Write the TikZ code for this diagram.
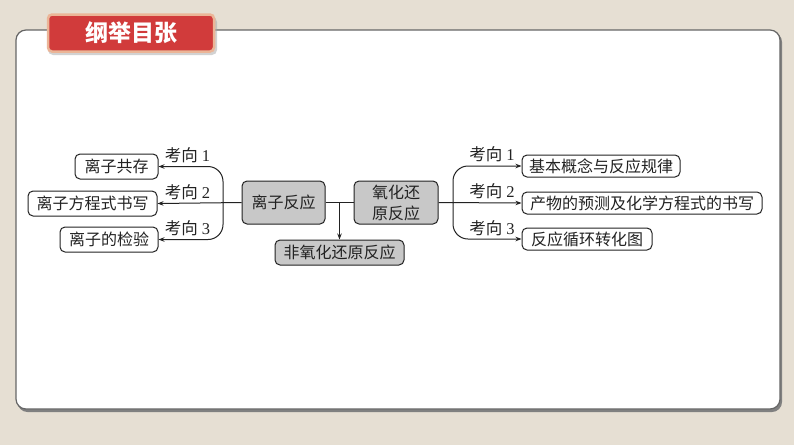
\documentclass[tikz,border=0pt]{standalone}
\usepackage{fontspec}
\setmainfont{Liberation Serif}
\newfontfamily\cjk{Noto Sans CJK SC}
\usetikzlibrary{arrows.meta}
\definecolor{bgcol}{HTML}{E6DFD3}
\definecolor{tabred}{HTML}{D13B3B}
\definecolor{tabedge}{HTML}{EBB597}
\definecolor{nodegray}{HTML}{C8C8C8}
\definecolor{ink}{HTML}{222222}
\begin{document}
\begin{tikzpicture}[x=1pt,y=-1pt,
  box/.style={draw=ink, line width=1pt, rounded corners=5pt, fill=white, text=ink,
    font=\cjk\fontsize{16}{21}\selectfont, inner xsep=2pt, inner ysep=1pt},
  gbox/.style={box, fill=nodegray},
  lbl/.style={font=\fontsize{16.5}{18}\selectfont, text=ink, inner sep=0pt},
  arr/.style={draw=ink, line width=1pt, -{Stealth[length=6pt,width=4.5pt]}},
  ln/.style={draw=ink, line width=1pt}]
\useasboundingbox (0,0) rectangle (794,445);
\fill[bgcol] (0,0) rectangle (794,445);
% panel
\fill[black!50, rounded corners=10pt] (17.5,32) rectangle (782,412);
\draw[fill=white, draw=black!60, line width=1.2pt, rounded corners=10pt] (16,30) rectangle (780,409);
% title tab
\fill[black!35, opacity=0.5, rounded corners=5pt] (48,17) rectangle (217,55);
\node[fill=tabred, draw=tabedge, line width=2.5pt, rounded corners=4pt,
  minimum width=166, minimum height=37, text=white,
  font=\cjk\bfseries\fontsize{23}{26}\selectfont] (title) at (131,33) {纲举目张};
% nodes
\node[box, minimum width=83, minimum height=25] (a1) at (116.5,166.5) {离子共存};
\node[box, minimum width=129, minimum height=25] (a2) at (92.5,203.5) {离子方程式书写};
\node[box, minimum width=98, minimum height=25] (a3) at (109,239.5) {离子的检验};
\node[gbox, minimum width=83, minimum height=43] (c1) at (283.5,202.5) {离子反应};
\node[gbox, minimum width=84, minimum height=43, align=center] (c2) at (396,202.5) {氧化还\\原反应};
\node[gbox, minimum width=129, minimum height=25] (c3) at (339.5,252.5) {非氧化还原反应};
\node[box, minimum width=158, minimum height=22] (b1) at (601,166) {基本概念与反应规律};
\node[box, minimum width=240, minimum height=22] (b2) at (642,203) {产物的预测及化学方程式的书写};
\node[box, minimum width=130, minimum height=22] (b3) at (587,239) {反应循环转化图};
% labels
\node[lbl] (l1) at (187.5,155) {{\cjk 考向} 1};
\node[lbl] (l2) at (187.5,192) {{\cjk 考向} 2};
\node[lbl] (l3) at (187.5,228) {{\cjk 考向} 3};
\node[lbl] (r1) at (492,154) {{\cjk 考向} 1};
\node[lbl] (r2) at (492,191) {{\cjk 考向} 2};
\node[lbl] (r3) at (492,228) {{\cjk 考向} 3};
% connectors
\coordinate (lb) at (223,203);
\coordinate (rb) at (453,203);
\draw[arr] (c1.west) -- (a2.east);
\draw[arr, rounded corners=15pt] (lb) |- (a1.east);
\draw[arr, rounded corners=15pt] (lb) |- (a3.east);
\draw[ln] (c1.east) -- (c2.west);
\draw[arr] (c1.east -| c3.north) -- (c3.north);
\draw[arr] (c2.east) -- (b2.west);
\draw[arr, rounded corners=15pt] (rb) |- (b1.west);
\draw[arr, rounded corners=15pt] (rb) |- (b3.west);
\end{tikzpicture}
\end{document}
